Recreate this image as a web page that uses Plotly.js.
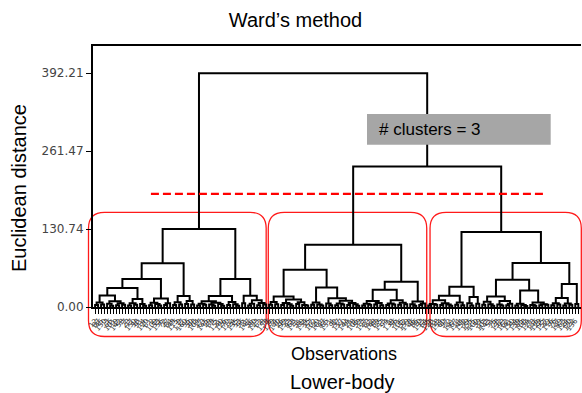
<!DOCTYPE html>
<html><head><meta charset="utf-8">
<script src="https://cdn.plot.ly/plotly-3.0.1.min.js"></script>
<style>html,body{margin:0;padding:0;background:#fff}#chart{width:582px;height:393px}</style>
</head><body><div id="chart"></div>
<script>
// ---------- data ----------
const chartTitle = 'Ward\u2019s method';
const yTitle = 'Euclidean distance';
const xTitle1 = 'Observations';
const xTitle2 = 'Lower-body';
const clusterNote = '# clusters = 3';
const rootHeight = 392.21;
const upperMergeHeight = 235.7;
const cutHeight = 190;
const cutFrom = 18.6, cutTo = 149.6;
const yTickValues = [0, 130.74, 261.47, 392.21];
const yTickLabels = ['0.00', '130.74', '261.47', '392.21'];

// node = [mergeHeight, left, right]; leaf = observation number
const cluster1Tree = [130.7,
  [73.5,
    [47,
      [31.8,
        [19.4, [7.5, [3.2, 12, 87], [4.1, 45, 130]],
               [9.6, [5.3, 3, [2.1, 66, 101]], [6.4, [2.8, 19, 142], [3.9, 58, 7]]]],
        [13.4, [6.2, [2.4, 23, 77], [3.6, 150, 38]], [5.1, 91, [2.2, 14, 120]]]],
      [14.2, [7.3, [3.1, 61, 2], [5.0, 109, [2.5, 33, 156]]], [6.1, [3.3, 72, 27], 84]]],
    [18.4, [8.1, [3.4, 48, 115], [4.3, 9, 137]], [10.2, [5.2, 160, 55], [4.0, 30, 98]]]],
  [47,
    [18.4,
      [9.8, [5.6, [2.6, 104, 17], [3.8, 63, 145]], [7.2, [4.4, 29, [1.9, 88, 5]], [4.9, 151, [2.3, 40, 126]]]],
      [8.6, [3.5, 70, 112], [4.6, 24, [2.0, 135, 53]]]],
    [19,
      [6.3, 96, 11],
      [11.5, [5.4, [2.7, 147, 36], 80], [6.8, [3.0, 123, 62], [4.2, 8, 158]]]]]];

const cluster2Tree = [104.4,
  [62.5,
    [17.8,
      [8.2, [3.6, 6, 119], [4.5, 74, 140]],
      [12.4, [6.6, [3.2, 26, 99], [4.8, 153, [2.1, 43, 68]]], [7.8, [5.1, 111, 31], [3.4, 89, [2.6, 134, 15]]]]],
    [32.9,
      [7.4, [3.7, 57, 102], [4.3, 20, [2.4, 161, 47]]],
      [14.5,
        [6.0, 65, [2.9, 131, 4]],
        [10.6, [5.8, [3.1, 92, 37], [4.0, 117, 50]], [6.9, [3.5, 144, 21], [4.7, 78, [2.2, 106, 59]]]]]]],
  [42.4,
    [29,
      [10.1, [5.5, [2.7, 13, 127], [3.9, 83, 42]], [6.7, [4.1, 148, 69], [3.0, 25, 113]]],
      [11.3, [5.9, [3.3, 94, 1], [4.4, 138, 56]], [7.1, [3.6, 71, 105], [4.8, 32, 159]]]],
    [9.4, [4.6, 118, [2.3, 46, 86]], [5.7, [3.2, 10, 133], 64]]]];

const cluster3Tree = [125.7,
  [34,
    [19,
      [11.2, [5.2, [2.5, 35, 128], [3.7, 81, 18]], [6.3, [3.4, 154, 60], [4.2, 97, [2.1, 22, 141]]]],
      [7.6, [3.8, 67, 114], [2.9, 44, 152]]],
    [16.8, [6.1, 79, [2.7, 155, 125]], [5.3, 100, 39]]],
  [73.7,
    [45.8,
      [17.8,
        [8.8, [3.9, 16, 103], [4.7, 143, [2.2, 51, 75]]],
        [9.9, [4.4, 28, [2.6, 132, 93]], [5.6, [3.1, 162, 41], 110]]],
      [27.8,
        [5.5, [2.4, 54, 139], [3.3, 85, [1.8, 108, 34]]],
        [7.7, [3.5, 121, [2.0, 73, 146]], [4.6, [2.8, 129, 95], [3.6, 157, 49]]]]],
    [38.5,
      [15.1, [6.5, [3.0, 116, 76], [4.1, 27, 149]], [5.8, [2.5, 63, 124], [3.7, 90, 122]]],
      [5.2, 136, 52]]]];

// ---------- build dendrogram geometry from the tree ----------
const fullTree = [rootHeight, cluster1Tree, [upperMergeHeight, cluster2Tree, cluster3Tree]];
const leafX = [], leafText = [], segX = [], segY = [];
const info = new Map();
function walk(node) {
  if (!Array.isArray(node)) {
    const x = leafX.length;
    leafX.push(x); leafText.push(String(node));
    return {x: x, h: 0, first: x, last: x};
  }
  const h = node[0];
  const L = walk(node[1]), R = walk(node[2]);
  segX.push(L.x, L.x, R.x, R.x, null);
  segY.push(L.h, h, h, R.h, null);
  const r = {x: (L.x + R.x) / 2, h: h, first: L.first, last: R.last};
  info.set(node, r);
  return r;
}
walk(fullTree);

// ---------- layout geometry ----------
const W = 582, H = 393;
const M = {l: 93, r: 1, t: 46, b: 86};
const PW = W - M.l - M.r, PH = H - M.t - M.b;
const xRange = [-0.7, leafX.length - 0.1];
const yRange = [0, 438];
const px2paperX = p => (p - M.l) / PW;
const py2paperY = p => (H - M.b - p) / PH;
const idx2paperX = v => (v - xRange[0]) / (xRange[1] - xRange[0]);

const shapes = [];
// rounded red boxes around the three clusters
const boxPad = [[-2.2, 0.0], [-0.3, 0.5], [0.6, 1.0]];
[cluster1Tree, cluster2Tree, cluster3Tree].forEach((c, i) => {
  const r = info.get(c);
  const x0 = idx2paperX(r.first + boxPad[i][0]), x1 = idx2paperX(r.last + boxPad[i][1]);
  const yT = py2paperY(212.3), yB = py2paperY(336.5);
  const rx = 16 / PW, ry = 16 / PH;
  const path = `M${x0 + rx},${yT} L${x1 - rx},${yT} Q${x1},${yT} ${x1},${yT - ry} ` +
    `L${x1},${yB + ry} Q${x1},${yB} ${x1 - rx},${yB} L${x0 + rx},${yB} Q${x0},${yB} ${x0},${yB + ry} ` +
    `L${x0},${yT - ry} Q${x0},${yT} ${x0 + rx},${yT} Z`;
  shapes.push({type: 'path', xref: 'paper', yref: 'paper', path: path, layer: 'below',
    line: {color: '#ff1a1a', width: 1.3}, fillcolor: 'rgba(0,0,0,0)'});
});
// grey note box
shapes.push({type: 'rect', xref: 'paper', yref: 'paper', layer: 'above',
  x0: px2paperX(367), x1: px2paperX(550.7), y0: py2paperY(144.7), y1: py2paperY(114),
  fillcolor: '#a6a6a6', line: {width: 0}});

const traces = [
  {type: 'scatter', mode: 'lines', x: segX, y: segY, hoverinfo: 'skip',
   line: {color: '#000', width: 2}, connectgaps: false},
  {type: 'scatter', mode: 'lines', x: [cutFrom, cutTo], y: [cutHeight, cutHeight], hoverinfo: 'skip',
   line: {color: '#ff0000', width: 2.2, dash: '8px,4px'}}
];

const sans = 'Liberation Sans, Arial, Helvetica, sans-serif';
const layout = {
  width: W, height: H, margin: M, showlegend: false,
  paper_bgcolor: '#fff', plot_bgcolor: '#fff',
  title: {text: chartTitle, font: {family: sans, size: 20, color: '#000'},
          x: 295.5 / W, xanchor: 'center', xref: 'container', y: 1 - 20 / H, yanchor: 'middle', yref: 'container'},
  xaxis: {range: xRange, tickmode: 'array', tickvals: leafX, ticktext: leafText,
          ticks: 'outside', ticklen: 5, tickwidth: 1, tickcolor: '#000', tickangle: -50,
          tickfont: {family: 'DejaVu Sans, sans-serif', size: 7, color: '#333'},
          showline: true, linewidth: 2, linecolor: '#000', mirror: true,
          showgrid: false, zeroline: false, fixedrange: true, automargin: false},
  yaxis: {range: yRange, tickmode: 'array', tickvals: yTickValues, ticktext: yTickLabels,
          ticks: 'outside', ticklen: 5, tickwidth: 1, tickcolor: '#000',
          tickfont: {family: 'DejaVu Sans, sans-serif', size: 12, color: '#444'},
          showline: true, linewidth: 2, linecolor: '#000', mirror: false,
          showgrid: false, zeroline: false, fixedrange: true, automargin: false},
  shapes: shapes,
  annotations: [
    {text: yTitle, xref: 'paper', yref: 'paper', x: px2paperX(19), y: py2paperY(188),
     xanchor: 'center', yanchor: 'middle', textangle: -90, showarrow: false,
     font: {family: sans, size: 20, color: '#000'}},
    {text: xTitle1, xref: 'paper', yref: 'paper', x: px2paperX(344), y: py2paperY(354),
     xanchor: 'center', yanchor: 'middle', showarrow: false,
     font: {family: sans, size: 18, color: '#000'}},
    {text: xTitle2, xref: 'paper', yref: 'paper', x: px2paperX(342), y: py2paperY(382),
     xanchor: 'center', yanchor: 'middle', showarrow: false,
     font: {family: sans, size: 20, color: '#000'}},
    {text: clusterNote, xref: 'paper', yref: 'paper', x: px2paperX(377), y: py2paperY(129),
     xanchor: 'left', yanchor: 'middle', showarrow: false,
     font: {family: sans, size: 17, color: '#000'}}
  ]
};
Plotly.newPlot('chart', traces, layout, {displayModeBar: false, staticPlot: true});
</script></body></html>
